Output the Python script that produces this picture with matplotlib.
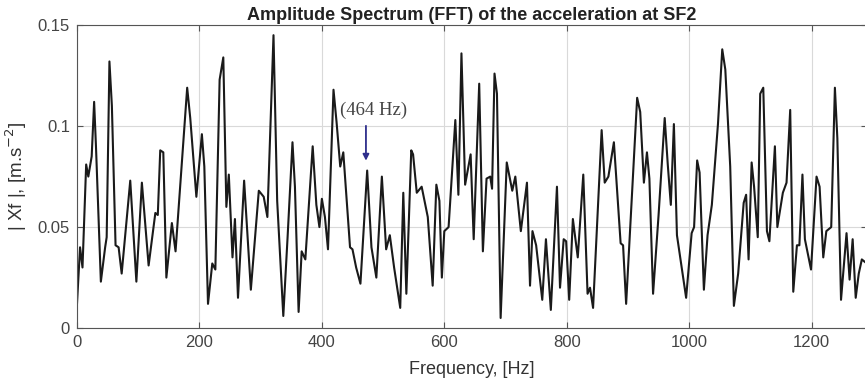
import matplotlib
matplotlib.use('Agg')
import matplotlib.pyplot as plt

# values
freq = [0, 5, 9, 15, 18.5, 24, 28, 31, 39, 46, 48.5, 53, 57, 63, 68, 73, 87, 97,
        106, 117, 128, 132, 136, 141, 146, 155, 161, 180, 185, 195, 204, 208, 214,
        221, 226, 233, 239, 244, 248, 254, 258, 263, 273, 284, 297, 305, 311, 321,
        327, 337, 344, 352, 356, 362, 367, 373, 385, 391, 396, 400, 405, 410, 419,
        424, 430, 435, 446, 450, 456, 463, 474, 481, 489, 498, 505, 511, 518, 528,
        533, 538, 546, 549, 555, 563, 573, 581, 587, 592, 596, 600, 607, 618, 623,
        628, 634, 643, 648, 657, 663, 669, 675, 678, 682, 686, 692, 702, 711, 716,
        725, 735, 740, 744, 750, 760, 766, 774, 784, 789, 795, 799, 804, 810, 818,
        827, 834, 838, 843, 857, 862, 868, 877, 888, 892, 897, 915, 920, 926, 931,
        935, 941, 950, 960, 965, 970, 975, 980, 995, 1004, 1008, 1013, 1017, 1024,
        1030, 1037, 1047, 1054, 1059, 1067, 1073, 1080, 1089, 1093, 1097, 1102,
        1106, 1112, 1116, 1121, 1127, 1131, 1140, 1144, 1153, 1159, 1165, 1170,
        1176, 1180, 1185, 1189, 1199, 1208, 1213, 1219, 1224, 1232, 1238, 1242,
        1248, 1257, 1262, 1267, 1272, 1277, 1282, 1290]
amp = [0.012, 0.040, 0.030, 0.081, 0.075, 0.085, 0.112, 0.090, 0.023, 0.040, 0.045,
       0.132, 0.110, 0.041, 0.040, 0.027, 0.073, 0.023, 0.072, 0.031, 0.057, 0.056,
       0.088, 0.087, 0.025, 0.052, 0.038, 0.119, 0.104, 0.065, 0.096, 0.080, 0.012,
       0.032, 0.029, 0.123, 0.134, 0.060, 0.076, 0.035, 0.054, 0.015, 0.073, 0.019,
       0.068, 0.065, 0.055, 0.145, 0.063, 0.006, 0.045, 0.092, 0.070, 0.008, 0.038,
       0.034, 0.090, 0.061, 0.050, 0.064, 0.055, 0.039, 0.118, 0.102, 0.080, 0.087,
       0.040, 0.039, 0.030, 0.022, 0.078, 0.040, 0.025, 0.075, 0.039, 0.046, 0.030,
       0.010, 0.067, 0.017, 0.088, 0.086, 0.067, 0.070, 0.055, 0.021, 0.071, 0.063,
       0.025, 0.048, 0.050, 0.103, 0.066, 0.136, 0.071, 0.086, 0.044, 0.121, 0.038,
       0.074, 0.075, 0.069, 0.126, 0.116, 0.005, 0.082, 0.068, 0.075, 0.048, 0.072,
       0.021, 0.048, 0.041, 0.014, 0.044, 0.009, 0.070, 0.020, 0.044, 0.043, 0.014,
       0.054, 0.035, 0.076, 0.017, 0.020, 0.010, 0.098, 0.072, 0.075, 0.092, 0.042,
       0.041, 0.012, 0.114, 0.107, 0.072, 0.087, 0.074, 0.017, 0.056, 0.104, 0.081,
       0.061, 0.101, 0.046, 0.015, 0.047, 0.050, 0.083, 0.077, 0.019, 0.046, 0.061,
       0.101, 0.138, 0.128, 0.080, 0.011, 0.027, 0.062, 0.066, 0.034, 0.082, 0.070,
       0.045, 0.116, 0.119, 0.048, 0.043, 0.090, 0.050, 0.067, 0.072, 0.108, 0.018,
       0.041, 0.041, 0.076, 0.044, 0.029, 0.075, 0.070, 0.035, 0.048, 0.050, 0.119,
       0.094, 0.014, 0.047, 0.024, 0.044, 0.015, 0.027, 0.034, 0.032]

xticks = [0, 200, 400, 600, 800, 1000, 1200]
yticks = [0, 0.05, 0.1, 0.15]
ytick_labels = ['0', '0.05', '0.1', '0.15']

peak_f = 472      # where the arrow points
peak_label = '(464 Hz)'

plt.rcParams['font.family'] = ['Liberation Sans', 'DejaVu Sans']

fig = plt.figure(figsize=(8.65, 3.86), dpi=100)
ax = fig.add_axes([0.089, 0.150, 1.002 - 0.089, 0.935 - 0.150])

ax.plot(freq, amp, color='#1a1a1a', lw=1.5)

ax.set_xlim(0, 1290)
ax.set_ylim(0, 0.15)
ax.set_xticks(xticks)
ax.set_yticks(yticks)
ax.set_yticklabels(ytick_labels)
ax.grid(True, color='#d9d9d9', lw=0.8)
ax.set_axisbelow(True)
ax.tick_params(direction='in', top=True, right=True, length=4, width=0.8,
               labelsize=12, labelcolor='#444444', color='#555555', pad=5)
for s in ax.spines.values():
    s.set_color('#555555')
    s.set_linewidth(0.8)

ax.set_title('Amplitude Spectrum (FFT) of the acceleration at SF2',
             fontsize=13, fontweight='bold', color='#222222', pad=4)
ax.set_xlabel('Frequency, [Hz]', fontsize=13, color='#333333', labelpad=8)
ax.set_ylabel('| Xf |, [m.s$^{-2}$]', fontsize=13.5, color='#333333', labelpad=6)

ax.annotate('', xy=(peak_f, 0.0815), xytext=(peak_f, 0.1015),
            arrowprops=dict(arrowstyle='-|>', color='#2e2e8c', lw=1.3,
                            mutation_scale=9))
ax.text(peak_f + 12, 0.1035, peak_label, ha='center', va='bottom',
        fontsize=13.5, family=['Liberation Serif', 'DejaVu Serif'], color='#444444')

fig.savefig('out.png', dpi=100)
